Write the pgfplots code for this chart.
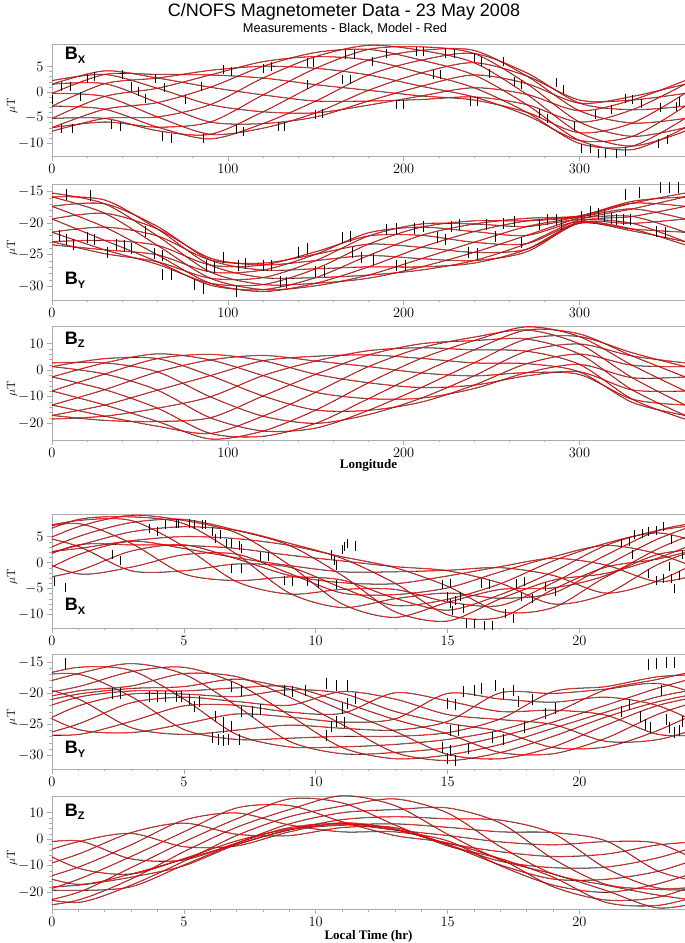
\documentclass[border=0pt]{standalone}
\usepackage{pgfplots}
\usepackage{pgfplotstable}
\pgfplotsset{compat=1.18}
\usepackage{fontspec}
\newfontfamily\arialfont{Liberation Sans}
\newfontfamily\timesfont{Liberation Serif}

% ---------- Longitude panels: one column per orbit ----------
\pgfplotstableread{
x c1 c2 c3 c4 c5 c6 c7 c8 c9 c10 c11 c12
0 2.3 1.6 -0.2 -2.7 -5.1 -6.9 -7.6 -6.9 -5.1 -2.7 -0.2 1.6
30 3.5 1.7 -0.8 -3.3 -5.1 -5.8 -5.1 -3.3 -0.8 1.7 3.5 4.2
60 0.8 -2.0 -4.8 -6.8 -7.5 -6.8 -4.8 -2.0 0.8 2.8 3.5 2.8
90 -2.4 -5.8 -8.2 -9.1 -8.2 -5.8 -2.4 1.0 3.4 4.3 3.4 1.0
120 -3.8 -6.1 -7.0 -6.1 -3.8 -0.5 2.8 5.1 6.0 5.1 2.8 -0.5
150 -4.0 -4.8 -4.0 -1.7 1.5 4.7 7.0 7.8 7.0 4.7 1.5 -1.7
180 -2.5 -1.7 0.4 3.4 6.3 8.4 9.2 8.4 6.3 3.4 0.4 -1.7
210 -0.7 1.2 3.8 6.3 8.2 8.9 8.2 6.3 3.8 1.2 -0.7 -1.4
240 0.9 3.4 5.8 7.6 8.2 7.6 5.8 3.4 0.9 -0.9 -1.5 -0.9
270 -0.4 1.7 3.2 3.8 3.2 1.7 -0.4 -2.4 -3.9 -4.5 -3.9 -2.4
300 -3.6 -2.1 -1.5 -2.1 -3.6 -5.8 -7.9 -9.4 -10.0 -9.4 -7.9 -5.8
330 -1.5 -0.8 -1.5 -3.4 -6.0 -8.6 -10.5 -11.2 -10.5 -8.6 -6.0 -3.4
360 2.3 1.6 -0.2 -2.7 -5.1 -6.9 -7.6 -6.9 -5.1 -2.7 -0.2 1.6
}\tBxLon

\pgfplotstableread{
x c1 c2 c3 c4 c5 c6 c7 c8 c9 c10 c11 c12
0 -15.2 -15.8 -17.3 -19.3 -21.4 -22.9 -23.4 -22.9 -21.4 -19.3 -17.3 -15.8
30 -16.9 -18.4 -20.6 -22.7 -24.2 -24.8 -24.2 -22.7 -20.6 -18.4 -16.9 -16.3
60 -22.0 -23.5 -25.0 -26.1 -26.5 -26.1 -25.0 -23.5 -22.0 -20.9 -20.5 -20.9
90 -27.7 -28.7 -29.5 -29.8 -29.5 -28.7 -27.7 -26.6 -25.8 -25.5 -25.8 -26.6
120 -29.7 -30.5 -30.8 -30.5 -29.7 -28.6 -27.4 -26.6 -26.3 -26.6 -27.4 -28.6
150 -29.5 -29.9 -29.5 -28.6 -27.2 -25.9 -24.9 -24.5 -24.9 -25.9 -27.2 -28.6
180 -28.7 -28.2 -26.9 -25.1 -23.3 -22.0 -21.5 -22.0 -23.3 -25.1 -26.9 -28.2
210 -26.9 -25.6 -23.8 -21.9 -20.6 -20.1 -20.6 -21.9 -23.8 -25.6 -26.9 -27.4
240 -24.6 -23.0 -21.3 -20.1 -19.6 -20.1 -21.3 -23.0 -24.6 -25.9 -26.3 -25.9
270 -21.9 -20.5 -19.6 -19.2 -19.6 -20.5 -21.9 -23.2 -24.1 -24.5 -24.1 -23.2
300 -19.1 -18.9 -18.8 -18.9 -19.1 -19.4 -19.7 -19.9 -20.0 -19.9 -19.7 -19.4
330 -16.8 -16.5 -16.8 -17.7 -18.9 -20.0 -20.9 -21.2 -20.9 -20.0 -18.9 -17.7
360 -15.2 -15.8 -17.3 -19.3 -21.4 -22.9 -23.4 -22.9 -21.4 -19.3 -17.3 -15.8
}\tByLon

\pgfplotstableread{
x c1 c2 c3 c4 c5 c6 c7 c8 c9 c10 c11 c12
0 2.9 1.5 -2.4 -7.7 -13.0 -16.9 -18.3 -16.9 -13.0 -7.7 -2.4 1.5
30 2.9 -1.3 -7.2 -13.0 -17.2 -18.8 -17.2 -13.0 -7.2 -1.3 2.9 4.5
60 -0.5 -7.4 -14.2 -19.2 -21.0 -19.2 -14.2 -7.4 -0.5 4.5 6.3 4.5
90 -9.9 -17.8 -23.7 -25.8 -23.7 -17.8 -9.9 -1.9 4.0 6.1 4.0 -1.9
120 -17.2 -22.8 -24.8 -22.8 -17.2 -9.6 -1.9 3.7 5.7 3.7 -1.9 -9.6
150 -19.9 -21.7 -19.9 -14.9 -8.2 -1.4 3.6 5.4 3.6 -1.4 -8.2 -14.9
180 -16.6 -15.0 -10.6 -4.6 1.5 5.9 7.5 5.9 1.5 -4.6 -10.6 -15.0
210 -10.4 -6.4 -0.9 4.6 8.6 10.1 8.6 4.6 -0.9 -6.4 -10.4 -11.9
240 -2.0 2.9 7.8 11.3 12.6 11.3 7.8 2.9 -2.0 -5.5 -6.8 -5.5
270 7.3 11.9 15.3 16.5 15.3 11.9 7.3 2.6 -0.8 -2.0 -0.8 2.6
300 10.0 12.8 13.8 12.8 10.0 6.2 2.3 -0.5 -1.5 -0.5 2.3 6.2
330 5.5 6.7 5.5 2.0 -2.7 -7.3 -10.8 -12.0 -10.8 -7.3 -2.7 2.0
360 2.9 1.5 -2.4 -7.7 -13.0 -16.9 -18.3 -16.9 -13.0 -7.7 -2.4 1.5
}\tBzLon

% ---------- Local time panels ----------
\pgfplotstableread{
x c1 c2 c3 c4 c5 c6 c7 c8 c9 c10 c11 c12
-1 -0.2 1.7 0.8 1.0 2.8 4.7 6.3 6.3 5.8 1.7 -3.6 -3.4
1 3.5 2.8 3.4 5.1 7.0 8.4 8.2 7.6 3.2 -2.1 -1.5 1.6
3 3.5 4.3 6.0 7.8 9.2 8.9 8.2 3.8 -1.5 -0.8 2.3 4.2
5 3.4 5.1 7.0 8.4 8.2 7.6 3.2 -2.1 -1.5 1.6 3.5 2.8
7 2.8 4.7 6.3 6.3 5.8 1.7 -3.6 -3.4 -0.2 1.7 0.8 1.0
9 1.5 3.4 3.8 3.4 -0.4 -5.8 -6.0 -2.7 -0.8 -2.0 -2.4 -0.5
11 0.4 1.2 0.9 -2.4 -7.9 -8.6 -5.1 -3.3 -4.8 -5.8 -3.8 -1.7
13 -0.7 -0.9 -3.9 -9.4 -10.5 -6.9 -5.1 -6.8 -8.2 -6.1 -4.0 -1.7
15 -1.5 -4.5 -10.0 -11.2 -7.6 -5.8 -7.5 -9.1 -7.0 -4.8 -2.5 -1.4
17 -3.9 -9.4 -10.5 -6.9 -5.1 -6.8 -8.2 -6.1 -4.0 -1.7 -0.7 -0.9
19 -7.9 -8.6 -5.1 -3.3 -4.8 -5.8 -3.8 -1.7 0.4 1.2 0.9 -2.4
21 -6.0 -2.7 -0.8 -2.0 -2.4 -0.5 1.5 3.4 3.8 3.4 -0.4 -5.8
23 -0.2 1.7 0.8 1.0 2.8 4.7 6.3 6.3 5.8 1.7 -3.6 -3.4
25 3.5 2.8 3.4 5.1 7.0 8.4 8.2 7.6 3.2 -2.1 -1.5 1.6
}\tBxLT

\pgfplotstableread{
x c1 c2 c3 c4 c5 c6 c7 c8 c9 c10 c11 c12
-1 -17.3 -18.4 -22.0 -26.6 -27.4 -25.9 -23.3 -21.9 -21.3 -20.5 -19.1 -17.7
1 -16.9 -20.9 -25.8 -26.6 -24.9 -22.0 -20.6 -20.1 -19.6 -18.9 -16.8 -15.8
3 -20.5 -25.5 -26.3 -24.5 -21.5 -20.1 -19.6 -19.2 -18.8 -16.5 -15.2 -16.3
5 -25.8 -26.6 -24.9 -22.0 -20.6 -20.1 -19.6 -18.9 -16.8 -15.8 -16.9 -20.9
7 -27.4 -25.9 -23.3 -21.9 -21.3 -20.5 -19.1 -17.7 -17.3 -18.4 -22.0 -26.6
9 -27.2 -25.1 -23.8 -23.0 -21.9 -19.4 -18.9 -19.3 -20.6 -23.5 -27.7 -28.6
11 -26.9 -25.6 -24.6 -23.2 -19.7 -20.0 -21.4 -22.7 -25.0 -28.7 -29.7 -28.6
13 -26.9 -25.9 -24.1 -19.9 -20.9 -22.9 -24.2 -26.1 -29.5 -30.5 -29.5 -28.2
15 -26.3 -24.5 -20.0 -21.2 -23.4 -24.8 -26.5 -29.8 -30.8 -29.9 -28.7 -27.4
17 -24.1 -19.9 -20.9 -22.9 -24.2 -26.1 -29.5 -30.5 -29.5 -28.2 -26.9 -25.9
19 -19.7 -20.0 -21.4 -22.7 -25.0 -28.7 -29.7 -28.6 -26.9 -25.6 -24.6 -23.2
21 -18.9 -19.3 -20.6 -23.5 -27.7 -28.6 -27.2 -25.1 -23.8 -23.0 -21.9 -19.4
23 -17.3 -18.4 -22.0 -26.6 -27.4 -25.9 -23.3 -21.9 -21.3 -20.5 -19.1 -17.7
25 -16.9 -20.9 -25.8 -26.6 -24.9 -22.0 -20.6 -20.1 -19.6 -18.9 -16.8 -15.8
}\tByLT

\pgfplotstableread{
x c1 c2 c3 c4 c5 c6 c7 c8 c9 c10 c11 c12
-1 -18.3 -18.8 -21.0 -25.8 -24.8 -21.7 -16.6 -11.9 -6.8 -2.0 -1.5 -12.0
1 -17.2 -19.2 -23.7 -22.8 -19.9 -15.0 -10.4 -5.5 -0.8 -0.5 -10.8 -16.9
3 -14.2 -17.8 -17.2 -14.9 -10.6 -6.4 -2.0 2.6 2.3 -7.3 -13.0 -13.0
5 -9.9 -9.6 -8.2 -4.6 -0.9 2.9 7.3 6.2 -2.7 -7.7 -7.2 -7.4
7 -1.9 -1.4 1.5 4.6 7.8 11.9 10.0 2.0 -2.4 -1.3 -0.5 -1.9
9 3.6 5.9 8.6 11.3 15.3 12.8 5.5 1.5 2.9 4.5 4.0 3.7
11 7.5 10.1 12.6 16.5 13.8 6.7 2.9 4.5 6.3 6.1 5.7 5.4
13 8.6 11.3 15.3 12.8 5.5 1.5 2.9 4.5 4.0 3.7 3.6 5.9
15 7.8 11.9 10.0 2.0 -2.4 -1.3 -0.5 -1.9 -1.9 -1.4 1.5 4.6
17 7.3 6.2 -2.7 -7.7 -7.2 -7.4 -9.9 -9.6 -8.2 -4.6 -0.9 2.9
19 2.3 -7.3 -13.0 -13.0 -14.2 -17.8 -17.2 -14.9 -10.6 -6.4 -2.0 2.6
21 -10.8 -16.9 -17.2 -19.2 -23.7 -22.8 -19.9 -15.0 -10.4 -5.5 -0.8 -0.5
23 -18.3 -18.8 -21.0 -25.8 -24.8 -21.7 -16.6 -11.9 -6.8 -2.0 -1.5 -12.0
25 -17.2 -19.2 -23.7 -22.8 -19.9 -15.0 -10.4 -5.5 -0.8 -0.5 -10.8 -16.9
}\tBzLT

\newcommand{\curves}[1]{%
  \pgfplotsinvokeforeach{1,...,12}{\addplot[black!85, line width=0.55pt, smooth, yshift=-0.5pt, forget plot] table[x index=0, y index=##1]{#1};}%
  \pgfplotsinvokeforeach{1,...,12}{\addplot[red, line width=0.5pt, smooth, forget plot] table[x index=0, y index=##1]{#1};}%
}

\pgfplotsset{
  panel/.style={
    scale only axis, width=633pt, clip=true,
    tick align=outside, xtick pos=left, ytick pos=left,
    axis line style={gray!65, line width=0.7pt},
    tick style={gray!65, line width=0.6pt},
    major tick length=5pt, minor tick length=2.5pt,
    minor y tick num=4, minor x tick num=4,
    tick label style={font=\fontsize{14}{16}\selectfont, text=black},
    ylabel={$\mu$T},
    ylabel style={font=\fontsize{12}{14}\selectfont, at={(axis description cs:-0.063,0.45)}, anchor=center},
  },
  lonpanel/.style={panel, xmin=0, xmax=360, xtick={0,100,200,300}},
  ltpanel/.style={panel, xmin=0, xmax=24, xtick={0,5,10,15,20}},
  spk/.style={only marks, mark=|, mark size=#1, mark options={line width=0.9pt, black}, forget plot},
}
\tikzset{blab/.style={anchor=west, inner sep=0pt, font=\arialfont\bfseries\fontsize{18}{18}\selectfont}}
\newcommand{\sub}[1]{\raisebox{-0.35ex}{\fontsize{11}{11}\selectfont #1}}

\begin{document}
\begin{tikzpicture}
\useasboundingbox (0pt,0pt) rectangle (685pt,943pt);

\node[font=\arialfont\fontsize{18}{20}\selectfont] at (344pt,931pt) {C/NOFS Magnetometer Data - 23 May 2008};
\node[font=\arialfont\fontsize{12.8}{14}\selectfont] at (345pt,914pt) {Measurements - Black, Model - Red};

% Panel 1: Bx vs longitude
\begin{axis}[lonpanel, at={(52pt,787pt)}, anchor=south west, height=112pt,
  ymin=-12.5, ymax=9.4, ytick={-10,-5,0,5}]
\curves{\tBxLon}
\addplot[spk=4.5pt] coordinates {(0,-1.5) (5.5,1.1) (10.4,1.1) (5.5,-7.1) (11.7,-7.1) (16,-0.8) (20.4,2.7) (24,3) (34,-6.4) (39,-6.7) (40,3.4) (45,1.1) (49,0.1) (53,-1.2) (59,2.7) (64,0.9) (63,-8.7) (68,-9) (76,-1.5) (85,1.1) (86,-9) (97.5,4.4) (102,4.1) (105,-7.4) (109,-7.7) (120,4.7) (125,5) (129,-6.7) (132,-6.7) (145,5.7) (148.5,5.7) (150,-4.4) (154,-4.1) (145,1.4) (165,2.4) (170,2.4) (167,7.3) (172,7.3) (182,6) (190,7.6) (196,-2.5) (200,-2.5) (207,8) (211,8) (217,3.4) (221,3.4) (224,7.6) (229,7.6) (238,-1.8) (242,-1.8) (240,6.7) (244,6) (249,3.7) (257,6) (263,2.1) (267,1.4) (277,-4.1) (282,-5.1) (287,1.8) (291,0.5) (297,-6.7) (301,-11) (306,-11) (309,-4.4) (311,-12) (315,-12) (318,-3.5) (321,-12) (326,-11.6) (326,-1.2) (330,-1.5) (335,-2.2) (345,-10) (350,-9.3) (346,-3.1) (355,-2.8) (357,-1.8)};
\node[blab] at (rel axis cs:0.02,0.9) {B\sub{X}};
\end{axis}

% Panel 2: By vs longitude
\begin{axis}[lonpanel, at={(52pt,643pt)}, anchor=south west, height=116pt,
  ymin=-32.2, ymax=-13.8, ytick={-30,-25,-20,-15}]
\curves{\tByLon}
\addplot[spk=5.5pt] coordinates {(8,-15.5) (21.6,-15.6) (4,-22) (8,-22.6) (12,-23.4) (20.4,-22.3) (24,-22.6) (31.6,-24.6) (36.6,-23.4) (41,-23.6) (45,-24.1) (53,-21.3) (58,-24.9) (63,-25.2) (63,-28.2) (68,-28.2) (81,-29.8) (86,-30.3) (88,-26.7) (92.5,-27) (97.5,-25.4) (105,-30.8) (106,-26.7) (110,-26.4) (120,-26.7) (125,-26.7) (130,-29.3) (133.6,-29.5) (140,-24.6) (145,-24.1) (150,-27.7) (155,-27.7) (165,-22.3) (170,-22.1) (171,-24.6) (176,-25.4) (183,-25.7) (190,-21) (196,-20.8) (196,-26.7) (201,-26.7) (206,-20.8) (211,-20.5) (219,-22.3) (224,-22.6) (227,-20.5) (232,-20.3) (237,-24.6) (242,-24.9) (247,-20.3) (252,-22.1) (257,-20) (263,-19.7) (267,-23.1) (277,-20.3) (282,-19.5) (287,-19.5) (290,-20.3) (301,-19) (306,-18.2) (311,-18.5) (314,-19) (318,-19.2) (321,-19.5) (325,-19.5) (329,-19.5) (326,-15.4) (334,-15.2) (344,-21.3) (349,-21.5) (346,-14.4) (351,-14.4) (356,-14.4)};
\node[blab] at (rel axis cs:0.02,0.17) {B\sub{Y}};
\end{axis}

% Panel 3: Bz vs longitude
\begin{axis}[lonpanel, at={(52pt,503pt)}, anchor=south west, height=114pt,
  ymin=-26.3, ymax=16.7, ytick={-20,-10,0,10}]
\curves{\tBzLon}
\node[blab] at (rel axis cs:0.02,0.88) {B\sub{Z}};
\end{axis}
\node[font=\timesfont\bfseries\fontsize{13}{15}\selectfont] at (368.5pt,478pt) {Longitude};

% Panel 4: Bx vs local time
\begin{axis}[ltpanel, at={(52pt,315pt)}, anchor=south west, height=114pt,
  ymin=-12.6, ymax=9.4, ytick={-10,-5,0,5}]
\curves{\tBxLT}
\addplot[spk=4.5pt] coordinates {(0.1,-3.7) (0.5,-4.8) (2.3,1.5) (2.6,0.5) (3.7,6.6) (4,6) (4.3,7.3) (4.7,7.6) (4.8,7.6) (5.2,7.6) (5.4,7.3) (5.7,7.3) (5.8,7.3) (6.1,6) (6.2,4.7) (6.4,5.4) (6.6,3.7) (6.8,3.7) (7.1,3.4) (7.2,2.8) (6.8,-1.1) (7.2,-1.1) (7.9,1.2) (8.2,1.2) (8.8,-3.4) (9.1,-3.7) (9.7,-3.7) (10.1,-4) (10.8,-4.3) (10.6,1.5) (10.7,0.5) (10.8,-0.5) (11,2.5) (11.1,3.1) (11.2,3.7) (11.5,3.1) (11.5,3.4) (16.3,-4) (16.6,-4.3) (14.8,-4.3) (15.1,-4) (15,-6.6) (15.1,-7.9) (15.3,-7.2) (15.5,-6.6) (15.2,-9.2) (15.6,-8.8) (15.7,-11.7) (16,-11.7) (16.4,-12.1) (16.7,-12.1) (17.2,-9.8) (17.5,-10.8) (17.6,-4) (17.9,-3.7) (17.8,-6.6) (18.2,-6.9) (18.7,-4.6) (19.1,-5.6) (21.6,3.7) (21.9,4.1) (22,1.5) (22.1,5.4) (22.4,5.7) (22.6,6) (22.9,6.3) (23.2,7) (23.5,4.4) (22.6,-2.1) (22.9,-3.4) (23.2,-3) (23.4,-0.8) (23.5,-3) (23.8,-2.4) (23.9,1.5) (23.6,-5)};
\node[blab] at (rel axis cs:0.02,0.19) {B\sub{X}};
\end{axis}

% Panel 5: By vs local time
\begin{axis}[ltpanel, at={(52pt,174pt)}, anchor=south west, height=115pt,
  ymin=-32.2, ymax=-13.7, ytick={-30,-25,-20,-15}]
\curves{\tByLT}
\addplot[spk=5.5pt] coordinates {(0.5,-15.3) (2.3,-20) (2.6,-20) (3.7,-20.5) (4,-20.5) (4.3,-20.5) (4.7,-20.5) (4.9,-20.5) (5.2,-21) (5.6,-21.3) (5.4,-22.1) (6.2,-23.7) (6.5,-24.7) (6.1,-27.1) (6.3,-27.4) (6.5,-27.6) (6.7,-27.4) (7.1,-27.4) (6.5,-25.5) (6.8,-25.3) (7.2,-22.9) (7.6,-22.9) (7.9,-22.6) (6.8,-19) (7.2,-19.5) (8.8,-19.5) (9.1,-19.7) (9.6,-19.5) (10.4,-18.4) (10.8,-18.7) (11.2,-18.7) (10.4,-26.8) (10.6,-25.3) (10.8,-24.5) (11.1,-24.7) (11,-22.4) (11.2,-21.6) (11.5,-20.8) (15,-21.6) (15.3,-21.8) (15.1,-26) (15.4,-26) (14.8,-28.7) (15.1,-29.2) (15,-30.5) (15.3,-30.8) (15.6,-19.7) (16,-19.5) (16.3,-19.2) (16.8,-18.7) (15.8,-28.9) (16.7,-27.1) (17.1,-27.4) (17.1,-20) (17.5,-19.5) (17.7,-21.3) (18.2,-21) (17.9,-25.5) (18.7,-23.2) (19.1,-22.4) (21.6,-22.9) (21.9,-21.8) (22.3,-23.7) (22.5,-25) (22.7,-25.5) (22.6,-15.4) (22.9,-15.3) (23.3,-15) (23.6,-15) (23.1,-19.5) (23.3,-24.2) (23.4,-25.5) (23.6,-26.3) (23.8,-26) (23.9,-24.5)};
\node[blab] at (rel axis cs:0.02,0.17) {B\sub{Y}};
\end{axis}

% Panel 6: Bz vs local time
\begin{axis}[ltpanel, at={(52pt,34pt)}, anchor=south west, height=113pt,
  ymin=-26.3, ymax=16.3, ytick={-20,-10,0,10}]
\curves{\tBzLT}
\node[blab] at (rel axis cs:0.02,0.86) {B\sub{Z}};
\end{axis}
\node[font=\timesfont\bfseries\fontsize{13}{15}\selectfont] at (368.5pt,7pt) {Local Time (hr)};
\end{tikzpicture}
\end{document}
